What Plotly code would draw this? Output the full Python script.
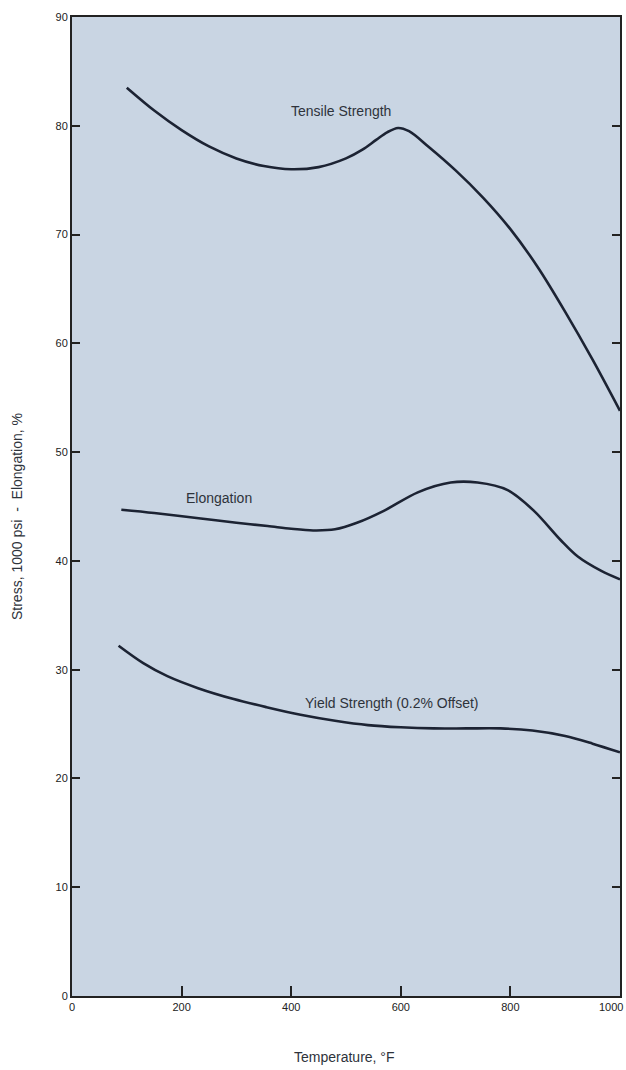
import plotly.graph_objects as go

# Data
tensile_x = [100, 150, 200, 250, 300, 350, 400, 450, 500, 530, 555, 575, 595, 615, 650, 700, 750, 800, 850, 900, 950, 1000]
tensile_y = [83.5, 81.4, 79.6, 78.1, 77.0, 76.3, 76.0, 76.2, 77.0, 77.8, 78.7, 79.4, 79.8, 79.5, 78.1, 75.9, 73.4, 70.5, 67.0, 62.9, 58.5, 53.8]

elong_x = [90, 150, 235, 300, 357, 400, 440, 480, 520, 569, 631, 691, 740, 795, 843, 892, 923, 965, 1000]
elong_y = [44.7, 44.4, 43.9, 43.5, 43.2, 42.95, 42.8, 42.9, 43.5, 44.6, 46.3, 47.2, 47.2, 46.5, 44.6, 41.9, 40.4, 39.1, 38.3]

yield_x = [85, 130, 174, 230, 295, 355, 417, 480, 540, 600, 660, 720, 782, 840, 900, 950, 1000]
yield_y = [32.2, 30.6, 29.4, 28.3, 27.3, 26.55, 25.85, 25.3, 24.9, 24.7, 24.6, 24.6, 24.6, 24.4, 23.9, 23.2, 22.4]

x_ticks = [0, 200, 400, 600, 800, 1000]
y_ticks = [0, 10, 20, 30, 40, 50, 60, 70, 80, 90]

labels = ["Tensile Strength", "Elongation", "Yield Strength (0.2% Offset)"]
label_x = [491, 268, 584]
label_y = [81.4, 45.8, 26.9]

line_color = "#1c2333"
text_color = "#2e333b"
fig = go.Figure()
for xs, ys in [(tensile_x, tensile_y), (elong_x, elong_y), (yield_x, yield_y)]:
    fig.add_trace(go.Scatter(x=xs, y=ys, mode="lines",
                             line=dict(color=line_color, width=2.6, shape="spline", smoothing=0.9),
                             showlegend=False, hoverinfo="skip"))

for t, lx, ly in zip(labels, label_x, label_y):
    fig.add_annotation(x=lx, y=ly, text=t, showarrow=False,
                       font=dict(family="Liberation Sans", size=14, color=text_color))

fig.add_annotation(xref="paper", yref="paper", x=-0.099, y=0.49,
                   xanchor="center", yanchor="middle",
                   text="Stress, 1000 psi  -  Elongation, %",
                   textangle=-90, showarrow=False,
                   font=dict(family="Liberation Sans", size=14, color=text_color))
fig.add_annotation(xref="paper", yref="paper", x=0.498, y=-0.0623,
                   xanchor="center", yanchor="middle",
                   text="Temperature, °F", showarrow=False,
                   font=dict(family="Liberation Sans", size=14, color=text_color))

# last x tick label placed so that it stays inside the page
x_ticktext = [str(v) for v in x_ticks[:-1]] + [""]
fig.add_annotation(xref="paper", yref="paper", x=1.009, y=-0.0035,
                   xanchor="right", yanchor="top", text=str(x_ticks[-1]),
                   showarrow=False,
                   font=dict(family="Liberation Sans", size=11, color="#222"))

fig.update_layout(
    width=626, height=1070,
    margin=dict(l=72, r=6, t=17, b=74, autoexpand=False),
    paper_bgcolor="white",
    plot_bgcolor="#c9d5e3",
    font=dict(family="Liberation Sans", size=11, color="#222"),
)
fig.update_xaxes(range=[0, 1000], tickvals=x_ticks, ticktext=x_ticktext,
                 showgrid=False, zeroline=False,
                 showline=True, linecolor="#222", linewidth=2, mirror=True,
                 ticks="inside", ticklen=10, tickwidth=2, tickcolor="#222",
                 automargin=False)
fig.update_yaxes(range=[0, 90], tickvals=y_ticks, showgrid=False, zeroline=False,
                 showline=True, linecolor="#222", linewidth=2, mirror="ticks",
                 ticks="inside", ticklen=8, tickwidth=2, tickcolor="#222",
                 automargin=False)

fig.write_html(
    "out.html",
    config={"displayModeBar": False},
    post_script="document.body.style.margin='0';document.body.style.overflow='hidden';"
                "document.documentElement.style.overflow='hidden';",
)
